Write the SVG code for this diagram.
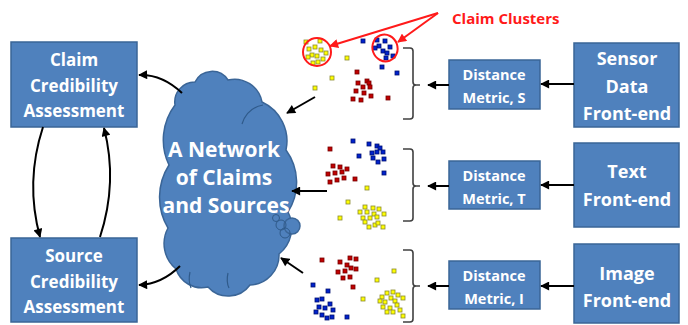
<svg xmlns="http://www.w3.org/2000/svg" width="688" height="325" viewBox="0 0 688 325">
<style>
.box{fill:#4f81bd;stroke:#3a6597;stroke-width:1.5}
.t{font-family:"Open Sans","Liberation Sans",sans-serif;font-weight:700;fill:#fff;text-anchor:middle}
.c{stroke:#000;stroke-width:2;fill:none}
.br{stroke:#404040;stroke-width:1.6;fill:none}
.seam{stroke:#2f5a8a;stroke-width:1.2;fill:none}
.y{fill:#ffff00;stroke:#8a8a30;stroke-width:0.8}
.r{fill:#c00000;stroke:#700;stroke-width:0.8}
.b{fill:#0022cc;stroke:#001070;stroke-width:0.8}
.red{stroke:#ff1a1a;stroke-width:2;fill:none}
</style>
<defs>
<marker id="ah" viewBox="0 0 10 10" refX="9" refY="5" markerWidth="5" markerHeight="4.5" orient="auto"><path d="M0,0 L10,5 L0,10 z" fill="#000"/></marker>
<marker id="rh" viewBox="0 0 10 10" refX="9" refY="5" markerWidth="5" markerHeight="4.5" orient="auto"><path d="M0,0 L10,5 L0,10 z" fill="#ff1a1a"/></marker>
</defs>
<rect width="688" height="325" fill="#fff"/>

<g id="cloud">
<path class="box" d="M175,105 A20,20 0 0 1 195,82 A19,19 0 0 1 228,80 A28,28 0 0 1 262,102 A43,43 0 0 1 286,150 A55,55 0 0 1 288,212 A34,34 0 0 1 279,254 A30,30 0 0 1 250,285 A27,27 0 0 1 208,287 A27,27 0 0 1 176,269 A33,33 0 0 1 168,228 A60,60 0 0 1 169,165 A58,58 0 0 1 175,105 Z"/>
<circle class="box" cx="292" cy="226" r="8"/>
<circle cx="276" cy="218" r="3.5" fill="none" stroke="#2f5a8a" stroke-width="1"/>
<circle cx="281" cy="225" r="5" fill="none" stroke="#2f5a8a" stroke-width="1"/>
<circle cx="285" cy="233" r="5" fill="none" stroke="#2f5a8a" stroke-width="1"/>
<path class="seam" d="M242,124 Q247,108 263,105"/>
<path class="seam" d="M190,272 Q188,281 191,288"/>
<path class="seam" d="M228,273 Q226,282 229,288"/>
<text class="t" x="224" y="157" font-size="21">A Network</text>
<text class="t" x="224" y="185" font-size="21">of Claims</text>
<text class="t" x="226" y="213" font-size="21">and Sources</text>
</g>

<g id="claim-cred">
<rect class="box" x="11" y="42" width="126" height="85"/>
<text class="t" x="74" y="66" font-size="17">Claim</text>
<text class="t" x="74" y="92" font-size="17">Credibility</text>
<text class="t" x="74" y="117" font-size="17">Assessment</text>
</g>
<g id="source-cred">
<rect class="box" x="11" y="238" width="126" height="84"/>
<text class="t" x="74" y="262" font-size="17">Source</text>
<text class="t" x="74" y="288" font-size="17">Credibility</text>
<text class="t" x="74" y="313" font-size="17">Assessment</text>
</g>

<g id="dist-s">
<rect class="box" x="449" y="60" width="91" height="49"/>
<text class="t" x="494" y="80" font-size="14.5">Distance</text>
<text class="t" x="494" y="103" font-size="14.5">Metric, S</text>
</g>
<g id="dist-t">
<rect class="box" x="449" y="161" width="91" height="48"/>
<text class="t" x="494" y="181" font-size="14.5">Distance</text>
<text class="t" x="494" y="204" font-size="14.5">Metric, T</text>
</g>
<g id="dist-i">
<rect class="box" x="449" y="261" width="91" height="48"/>
<text class="t" x="494" y="281" font-size="14.5">Distance</text>
<text class="t" x="494" y="304" font-size="14.5">Metric, I</text>
</g>

<g id="sensor-fe">
<rect class="box" x="574" y="43" width="105" height="84"/>
<text class="t" x="627" y="65" font-size="18">Sensor</text>
<text class="t" x="627" y="93" font-size="18">Data</text>
<text class="t" x="627" y="120" font-size="18">Front-end</text>
</g>
<g id="text-fe">
<rect class="box" x="574" y="143" width="105" height="84"/>
<text class="t" x="627" y="178" font-size="18">Text</text>
<text class="t" x="627" y="206" font-size="18">Front-end</text>
</g>
<g id="image-fe">
<rect class="box" x="574" y="244" width="105" height="79"/>
<text class="t" x="627" y="280" font-size="18">Image</text>
<text class="t" x="627" y="307" font-size="18">Front-end</text>
</g>

<g id="clusters">
<g id="cluster-s">
<rect class="y" x="304" y="40" width="4" height="4"/><rect class="y" x="318" y="39" width="4" height="4"/><rect class="y" x="307" y="47" width="4" height="4"/><rect class="y" x="313" y="45" width="4" height="4"/><rect class="y" x="319" y="48" width="4" height="4"/><rect class="y" x="324" y="51" width="4" height="4"/><rect class="y" x="310" y="53" width="4" height="4"/><rect class="y" x="315" y="54" width="4" height="4"/><rect class="y" x="321" y="57" width="4" height="4"/><rect class="y" x="311" y="61" width="4" height="4"/><rect class="y" x="316" y="60" width="4" height="4"/><rect class="y" x="306" y="55" width="4" height="4"/>
<rect class="y" x="345" y="56" width="4" height="4"/><rect class="y" x="330" y="76" width="4" height="4"/><rect class="y" x="313" y="86" width="4" height="4"/>
<rect class="b" x="361" y="39" width="4" height="4"/><rect class="b" x="375" y="38" width="4" height="4"/><rect class="b" x="383" y="39" width="4" height="4"/><rect class="b" x="377" y="44" width="4" height="4"/><rect class="b" x="388" y="45" width="4" height="4"/><rect class="b" x="373" y="46" width="4" height="4"/><rect class="b" x="381" y="49" width="4" height="4"/><rect class="b" x="385" y="51" width="4" height="4"/><rect class="b" x="391" y="54" width="4" height="4"/><rect class="b" x="384" y="56" width="4" height="4"/><rect class="b" x="380" y="65" width="4" height="4"/><rect class="b" x="395" y="71" width="4" height="4"/>
<rect class="r" x="355" y="70" width="4" height="4"/><rect class="r" x="365" y="79" width="4" height="4"/><rect class="r" x="356" y="81" width="4" height="4"/><rect class="r" x="367" y="81" width="4" height="4"/><rect class="r" x="361" y="85" width="4" height="4"/><rect class="r" x="368" y="85" width="4" height="4"/><rect class="r" x="354" y="89" width="4" height="4"/><rect class="r" x="362" y="91" width="4" height="4"/><rect class="r" x="369" y="94" width="4" height="4"/><rect class="r" x="351" y="97" width="4" height="4"/><rect class="r" x="359" y="98" width="4" height="4"/><rect class="r" x="386" y="96" width="4" height="4"/>
</g>
<g id="cluster-t">
<rect class="r" x="328" y="147" width="4" height="4"/><rect class="r" x="331" y="164" width="4" height="4"/><rect class="r" x="338" y="165" width="4" height="4"/><rect class="r" x="345" y="167" width="4" height="4"/><rect class="r" x="326" y="172" width="4" height="4"/><rect class="r" x="333" y="171" width="4" height="4"/><rect class="r" x="340" y="170" width="4" height="4"/><rect class="r" x="342" y="176" width="4" height="4"/><rect class="r" x="328" y="180" width="4" height="4"/><rect class="r" x="335" y="178" width="4" height="4"/><rect class="r" x="353" y="177" width="4" height="4"/>
<rect class="b" x="351" y="139" width="4" height="4"/><rect class="b" x="367" y="142" width="4" height="4"/><rect class="b" x="375" y="144" width="4" height="4"/><rect class="b" x="378" y="146" width="4" height="4"/><rect class="b" x="357" y="154" width="4" height="4"/><rect class="b" x="370" y="151" width="4" height="4"/><rect class="b" x="375" y="150" width="4" height="4"/><rect class="b" x="381" y="150" width="4" height="4"/><rect class="b" x="371" y="156" width="4" height="4"/><rect class="b" x="376" y="160" width="4" height="4"/><rect class="b" x="382" y="157" width="4" height="4"/><rect class="b" x="382" y="171" width="4" height="4"/>
<rect class="y" x="365" y="186" width="4" height="4"/><rect class="y" x="346" y="200" width="4" height="4"/><rect class="y" x="338" y="216" width="4" height="4"/><rect class="y" x="363" y="205" width="4" height="4"/><rect class="y" x="371" y="206" width="4" height="4"/><rect class="y" x="377" y="207" width="4" height="4"/><rect class="y" x="358" y="210" width="4" height="4"/><rect class="y" x="365" y="210" width="4" height="4"/><rect class="y" x="372" y="212" width="4" height="4"/><rect class="y" x="382" y="212" width="4" height="4"/><rect class="y" x="361" y="216" width="4" height="4"/><rect class="y" x="368" y="216" width="4" height="4"/><rect class="y" x="375" y="215" width="4" height="4"/><rect class="y" x="363" y="220" width="4" height="4"/><rect class="y" x="373" y="223" width="4" height="4"/><rect class="y" x="381" y="225" width="4" height="4"/><rect class="y" x="367" y="225" width="4" height="4"/><rect class="y" x="376" y="221" width="4" height="4"/>
</g>
<g id="cluster-i">
<rect class="r" x="320" y="258" width="4" height="4"/><rect class="r" x="338" y="260" width="4" height="4"/><rect class="r" x="348" y="256" width="4" height="4"/><rect class="r" x="354" y="257" width="4" height="4"/><rect class="r" x="345" y="263" width="4" height="4"/><rect class="r" x="336" y="270" width="4" height="4"/><rect class="r" x="343" y="269" width="4" height="4"/><rect class="r" x="349" y="266" width="4" height="4"/><rect class="r" x="354" y="267" width="4" height="4"/><rect class="r" x="341" y="276" width="4" height="4"/><rect class="r" x="348" y="275" width="4" height="4"/><rect class="r" x="351" y="285" width="4" height="4"/>
<rect class="y" x="392" y="269" width="4" height="4"/><rect class="y" x="375" y="278" width="4" height="4"/><rect class="y" x="361" y="297" width="4" height="4"/><rect class="y" x="380" y="295" width="4" height="4"/><rect class="y" x="385" y="291" width="4" height="4"/><rect class="y" x="391" y="290" width="4" height="4"/><rect class="y" x="396" y="293" width="4" height="4"/><rect class="y" x="401" y="296" width="4" height="4"/><rect class="y" x="383" y="300" width="4" height="4"/><rect class="y" x="389" y="296" width="4" height="4"/><rect class="y" x="393" y="299" width="4" height="4"/><rect class="y" x="381" y="305" width="4" height="4"/><rect class="y" x="388" y="306" width="4" height="4"/><rect class="y" x="395" y="303" width="4" height="4"/><rect class="y" x="385" y="310" width="4" height="4"/><rect class="y" x="391" y="310" width="4" height="4"/><rect class="y" x="398" y="308" width="4" height="4"/><rect class="y" x="401" y="314" width="4" height="4"/><rect class="y" x="378" y="299" width="4" height="4"/>
<rect class="b" x="311" y="283" width="4" height="4"/><rect class="b" x="326" y="289" width="4" height="4"/><rect class="b" x="315" y="298" width="4" height="4"/><rect class="b" x="320" y="297" width="4" height="4"/><rect class="b" x="328" y="302" width="4" height="4"/><rect class="b" x="317" y="305" width="4" height="4"/><rect class="b" x="323" y="306" width="4" height="4"/><rect class="b" x="331" y="308" width="4" height="4"/><rect class="b" x="320" y="313" width="4" height="4"/><rect class="b" x="325" y="316" width="4" height="4"/><rect class="b" x="330" y="315" width="4" height="4"/><rect class="b" x="345" y="315" width="4" height="4"/><rect class="b" x="314" y="310" width="4" height="4"/>
</g>
</g>

<g id="claim-clusters-label">
<ellipse class="red" cx="317" cy="52" rx="14" ry="14"/>
<ellipse class="red" cx="385" cy="48" rx="12.5" ry="13.5" transform="rotate(-20 385 48)"/>
<text x="452" y="24" font-family="Open Sans,'Liberation Sans',sans-serif" font-weight="700" font-size="15" fill="#ff1a1a">Claim Clusters</text>
</g>

<g id="connectors">
<path class="red" d="M438,13 L330,46" marker-end="url(#rh)"/>
<path class="red" d="M438,13 L398,42" marker-end="url(#rh)"/>
<path class="c" d="M182,93 Q162,74 139,75" marker-end="url(#ah)"/>
<path class="c" d="M180,266 Q162,284 139,285" marker-end="url(#ah)"/>
<path class="c" d="M43,127 Q25,182 40,237" marker-end="url(#ah)"/>
<path class="c" d="M100,237 Q118,182 104,128" marker-end="url(#ah)"/>
<path class="c" d="M315,97 L287,113" marker-end="url(#ah)"/>
<path class="c" d="M327,191 L292,191" marker-end="url(#ah)"/>
<path class="c" d="M303,273 L281,258" marker-end="url(#ah)"/>
<path class="br" d="M403,48 H410 Q413,48 413,51 V82 Q413,85 416,85 H420 M416,85 Q413,85 413,88 V116 Q413,119 410,119 H403"/>
<path class="br" d="M403,149 H410 Q413,149 413,152 V183 Q413,186 416,186 H420 M416,186 Q413,186 413,189 V218 Q413,221 410,221 H403"/>
<path class="br" d="M403,250 H410 Q413,250 413,253 V283 Q413,286 416,286 H420 M416,286 Q413,286 413,289 V319 Q413,322 410,322 H403"/>
<path class="c" d="M449,85 L428,85" marker-end="url(#ah)"/>
<path class="c" d="M449,186 L428,186" marker-end="url(#ah)"/>
<path class="c" d="M449,286 L428,286" marker-end="url(#ah)"/>
<path class="c" d="M574,84 L541,84" marker-end="url(#ah)"/>
<path class="c" d="M574,185 L541,185" marker-end="url(#ah)"/>
<path class="c" d="M574,286 L541,286" marker-end="url(#ah)"/>
</g>
</svg>
